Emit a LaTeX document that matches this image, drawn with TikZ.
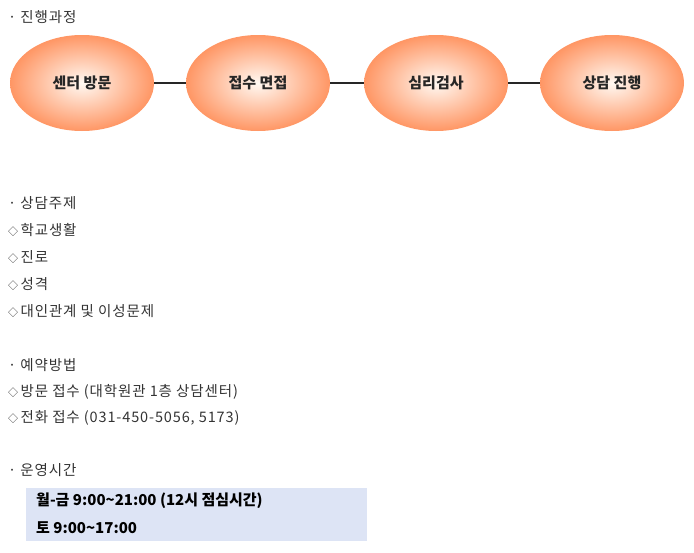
\documentclass[tikz,border=0pt]{standalone}
\usepackage{fontspec}
\setmainfont{Noto Sans CJK KR}
\newfontfamily\wide[LetterSpace=6]{Noto Sans CJK KR}
\newcommand{\dia}{{\fontsize{10}{12}\selectfont◇}\,}
\begin{document}
\begin{tikzpicture}[x=1pt,y=-1pt,
  stage/.style={ellipse,minimum width=144pt,minimum height=96pt,shading=radial,inner color=orange!5!white,outer color={rgb,255:red,255;green,150;blue,100},font=\fontsize{15}{17}\selectfont\bfseries,text=black!85},
  item/.style={anchor=west,font=\wide\fontsize{14.5}{16}\selectfont,text=black!80,inner sep=0pt},
  link/.style={line width=1.2pt,black!85}]
\useasboundingbox (0,0) rectangle (694,552);
\usetikzlibrary{shapes.geometric}
\node[item] (h1) at (8,17) {· 진행과정};
\node[stage] (s1) at (82,83) {센터 방문};
\node[stage] (s2) at (258,83) {접수 면접};
\node[stage] (s3) at (436,83) {심리검사};
\node[stage] (s4) at (612,83) {상담 진행};
\draw[link] (s1) -- (s2);
\draw[link] (s2) -- (s3);
\draw[link] (s3) -- (s4);
\node[item] (h2) at (8,203) {· 상담주제};
\node[item] (a1) at (8,230) {\dia 학교생활};
\node[item] (a2) at (8,257) {\dia 진로};
\node[item] (a3) at (8,284) {\dia 성격};
\node[item] (a4) at (8,311) {\dia 대인관계 및 이성문제};
\node[item] (h3) at (8,365) {· 예약방법};
\node[item] (b1) at (8,392) {\dia 방문 접수 (대학원관 1층 상담센터)};
\node[item] (b2) at (8,418) {\dia 전화 접수 (031-450-5056, 5173)};
\node[item] (h4) at (8,470) {· 운영시간};
\fill[fill={rgb,255:red,221;green,228;blue,245}] (26,488) rectangle (367,541);
\node[item,font=\fontsize{15}{17}\selectfont\bfseries,text=black] (c1) at (36,501) {월-금 9:00\textasciitilde21:00 (12시 점심시간)};
\node[item,font=\fontsize{15}{17}\selectfont\bfseries,text=black] (c2) at (36,528) {토 9:00\textasciitilde17:00};
\end{tikzpicture}
\end{document}
